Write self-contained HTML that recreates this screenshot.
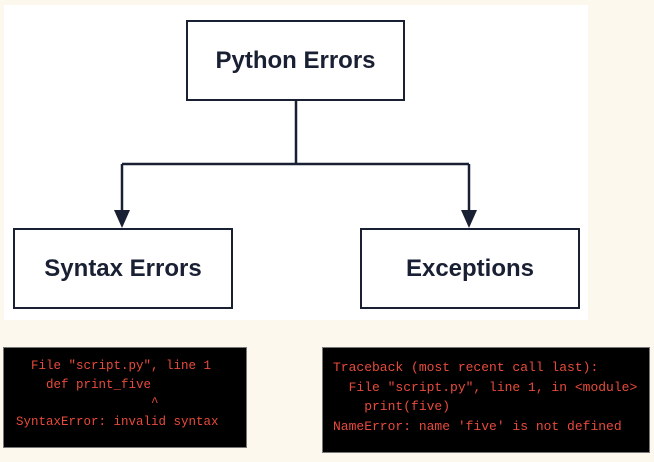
<!DOCTYPE html>
<html><head><style>
body{margin:0;width:654px;height:462px;background:#fdf8ee;position:relative;overflow:hidden;font-family:"Liberation Sans",sans-serif}
.panel{position:absolute;left:4px;top:5px;width:584px;height:315px;background:#fff}
.box{position:absolute;box-sizing:border-box;border:2px solid #1a2033;background:#fff;display:flex;align-items:center;justify-content:center;font-weight:bold;font-size:24px;color:#1a2033}
.term{position:absolute;background:#000;border:1px solid #777;box-sizing:border-box;font-family:"Liberation Mono",monospace;color:#e84a3c;white-space:pre}
</style></head><body>
<div class="panel"></div>
<svg style="position:absolute;left:0;top:0" width="654" height="462">
<path d="M296 100 V164 M122 164 H469 M122 164 V214 M469 164 V214" stroke="#1a2033" stroke-width="2.5" fill="none"/>
<polygon points="114,210 130,210 122,228" fill="#1a2033"/>
<polygon points="461,210 477,210 469,228" fill="#1a2033"/>
</svg>
<div class="box" style="left:186px;top:20px;width:219px;height:81px">Python Errors</div>
<div class="box" style="left:13px;top:228px;width:220px;height:81px">Syntax Errors</div>
<div class="box" style="left:360px;top:228px;width:220px;height:81px">Exceptions</div>
<div class="term" style="left:3px;top:347px;width:244px;height:101px;font-size:12.5px;line-height:18.5px;padding:9px 0 0 12px">  File "script.py", line 1
    def print_five
                  ^
SyntaxError: invalid syntax</div>
<div class="term" style="left:322px;top:347px;width:328px;height:106px;font-size:13px;line-height:19.5px;padding:10px 0 0 10px">Traceback (most recent call last):
  File "script.py", line 1, in &lt;module&gt;
    print(five)
NameError: name 'five' is not defined</div>
</body></html>
